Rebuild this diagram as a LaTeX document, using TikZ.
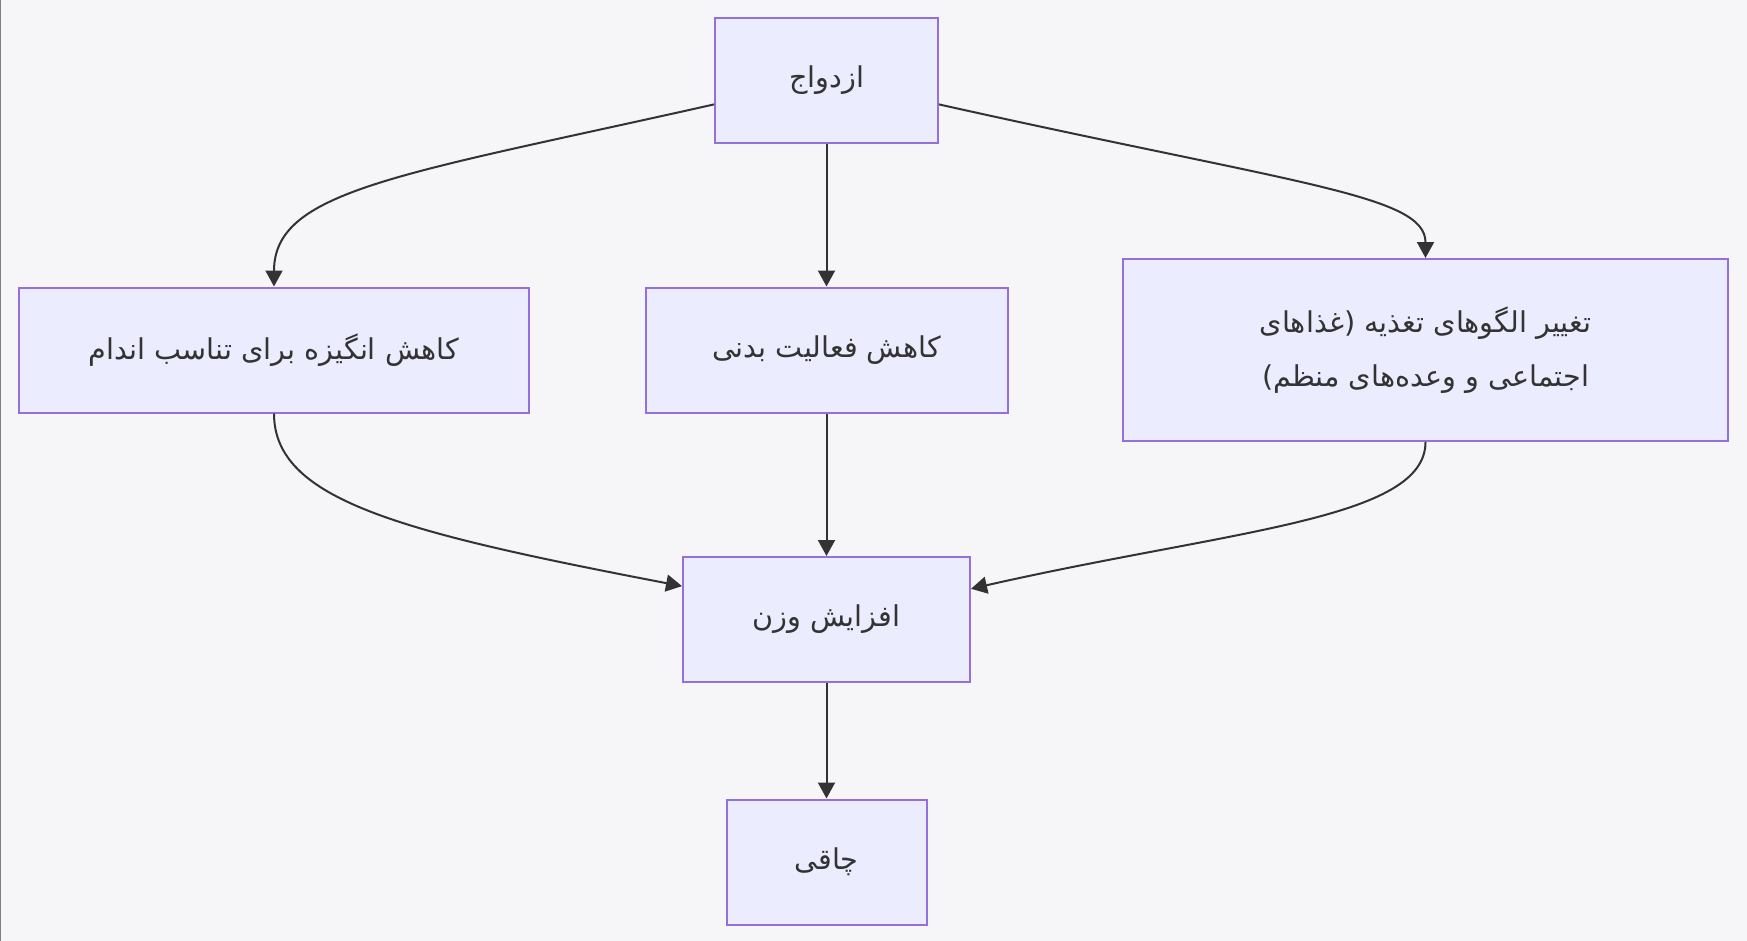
\documentclass[tikz,border=0pt]{standalone}
\usepackage{fontspec}
\usetikzlibrary{arrows.meta}
\newfontfamily\farsifont[Script=Arabic]{DejaVu Sans}
\TeXXeTstate=1
\definecolor{bgcol}{RGB}{246,246,248}
\definecolor{boxfill}{RGB}{236,236,255}
\definecolor{boxline}{RGB}{147,112,219}
\definecolor{inkcol}{RGB}{51,51,51}

\begin{document}
\begin{tikzpicture}[x=0.75pt,y=-0.75pt]
    % Define styles for shapes
    \tikzstyle{process} = [draw=boxline, fill=boxfill, line width=1.5pt, minimum height=93.75pt, text centered, text=inkcol, font=\farsifont\fontsize{21.5}{40}\selectfont, align=center]
    \tikzstyle{link} = [draw=inkcol, line width=1.5pt, -{Triangle[length=12pt,width=12.75pt]}]

    % Background and left border
    \fill[bgcol] (0,0) rectangle (1747,941);
    \useasboundingbox (0,0) rectangle (1747,941);
    \draw[gray, line width=0.9pt] (0.6,0) -- (0.6,941);

    % Draw the boxes
    \node[process, minimum width=167.25pt] (marriage) at (826.5,80.5) {\beginR ازدواج\endR};
    \node[process, minimum width=382.5pt] (motivation) at (274,350) {\beginR کاهش انگیزه برای تناسب اندام\endR};
    \node[process, minimum width=271.5pt] (activity) at (826.5,350) {\beginR کاهش فعالیت بدنی\endR};
    \node[process, minimum width=453.75pt, minimum height=136.5pt] (diet) at (1425.5,350) {\beginR تغییر الگوهای تغذیه (غذاهای\endR\\\beginR اجتماعی و وعده‌های منظم)\endR};
    \node[process, minimum width=215.25pt] (weight) at (826.5,619.5) {\beginR افزایش وزن\endR};
    \node[process, minimum width=150pt] (obesity) at (826.5,862) {\beginR چاقی\endR};

    % Draw the arrows between the boxes
    \draw[link] (marriage.192.9) .. controls (400,175) and (274,190) .. (motivation.north);
    \draw[link] (marriage) -- (activity);
    \draw[link] (marriage.348.9) .. controls (1300,185) and (1425.5,195) .. (diet.north);
    \draw[link] (motivation.south) .. controls (274,500) and (400,532) .. (weight.167.6);
    \draw[link] (activity) -- (weight);
    \draw[link] (diet.south) .. controls (1425.5,520) and (1230,530) .. (weight.12.4);
    \draw[link] (weight) -- (obesity);

\end{tikzpicture}
\end{document}
